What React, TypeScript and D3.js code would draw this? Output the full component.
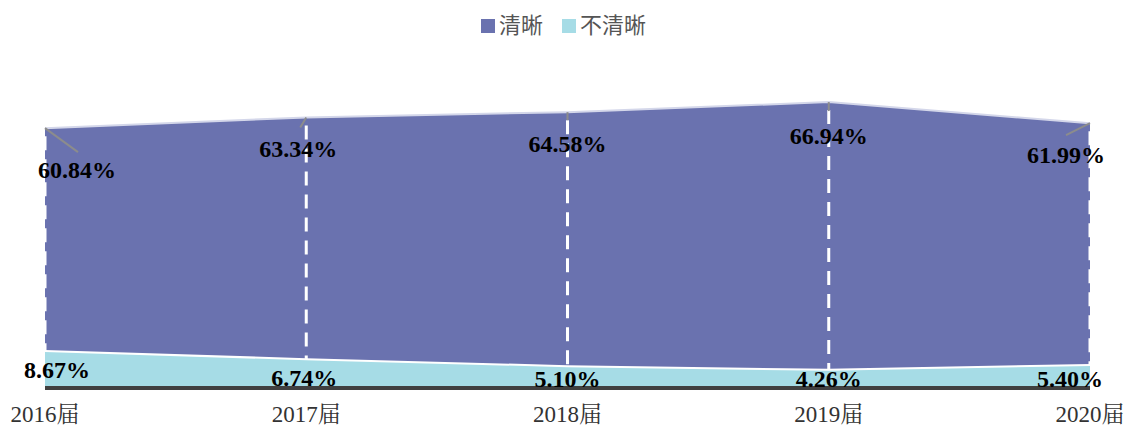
import React from 'react';
import * as d3 from 'd3';

const years = ['2016届', '2017届', '2018届', '2019届', '2020届'];
const clear = [60.84, 63.34, 64.58, 66.94, 61.99];
const unclear = [8.67, 6.74, 5.1, 4.26, 5.4];
const seriesNames = ['清晰', '不清晰'];
const seriesColors = ['#6A72AF', '#A6DCE6'];

// label nudges (px) for the top series, relative to the point
const topLabelDx = [32, -8, 0, 0, -24];
const topLabelDy = [50, 40, 40, 42, 40];
const topLeaderDx = [33, -6, 0, 0, -24];
const topLeaderDy = [24, 10, 8, 9, 12];
const botLabelDx = [12, -2, 0, 0, -20];

const W = 1126;
const H = 428;

export default function App() {
  const x = d3.scalePoint<string>().domain(years).range([45, 1090]);
  const y = d3.scaleLinear().domain([0, 70]).range([388, 89]);

  const area = d3
    .area<number>()
    .x((_, i) => x(years[i]) as number)
    .y0(y(0))
    .y1((d) => y(d));
  const line = d3
    .line<number>()
    .x((_, i) => x(years[i]) as number)
    .y((d) => y(d));

  const serif = '"Times New Roman", "Liberation Serif", "Noto Serif CJK SC", serif';

  return (
    <svg
      width={W}
      height={H}
      style={{ position: 'absolute', left: 0, top: 0, background: '#fff' }}
    >
      {/* legend */}
      <g fontFamily='"Noto Sans CJK SC", sans-serif' fontSize={22} fill="#555">
        <rect x={481} y={19} width={14} height={14} fill={seriesColors[0]} />
        <text x={499} y={33}>{seriesNames[0]}</text>
        <rect x={562} y={19} width={14} height={14} fill={seriesColors[1]} />
        <text x={580} y={33}>{seriesNames[1]}</text>
      </g>

      <path d={area(clear) || ''} fill={seriesColors[0]} />
      <path d={line(clear) || ''} fill="none" stroke="#D4D7EA" strokeWidth={2} />

      {/* dashed guides */}
      {years.map((yr, i) => (
        <line
          key={yr}
          x1={x(yr)}
          x2={x(yr)}
          y1={y(clear[i]) + 8}
          y2={y(0)}
          stroke="#fff"
          strokeWidth={3}
          strokeDasharray="14 9"
        />
      ))}

      <path d={area(unclear) || ''} fill={seriesColors[1]} />
      <path d={line(unclear) || ''} fill="none" stroke="#fff" strokeWidth={2} />

      {/* leader lines */}
      {years.map((yr, i) => (
        <line
          key={'l' + yr}
          x1={x(yr)}
          y1={y(clear[i])}
          x2={(x(yr) as number) + topLeaderDx[i]}
          y2={y(clear[i]) + topLeaderDy[i]}
          stroke="#8C8C8C"
          strokeWidth={2}
        />
      ))}

      <line x1={x(years[0])} x2={x(years[4])} y1={y(0)} y2={y(0)} stroke="#404040" strokeWidth={4} />

      {/* value labels */}
      <g fontFamily={serif} fontWeight="bold" fontSize={24} fill="#000" textAnchor="middle">
        {years.map((yr, i) => (
          <text key={'t' + yr} x={(x(yr) as number) + topLabelDx[i]} y={y(clear[i]) + topLabelDy[i]}>
            {clear[i].toFixed(2)}%
          </text>
        ))}
        {years.map((yr, i) => (
          <text
            key={'b' + yr}
            x={(x(yr) as number) + botLabelDx[i]}
            y={Math.min(y(unclear[i]) + 27, y(0) - 1)}
          >
            {unclear[i].toFixed(2)}%
          </text>
        ))}
      </g>

      {/* x axis labels */}
      <g fontFamily={serif} fontSize={23} fill="#333" textAnchor="middle">
        {years.map((yr) => (
          <text key={'x' + yr} x={x(yr)} y={422}>
            {yr}
          </text>
        ))}
      </g>
    </svg>
  );
}
